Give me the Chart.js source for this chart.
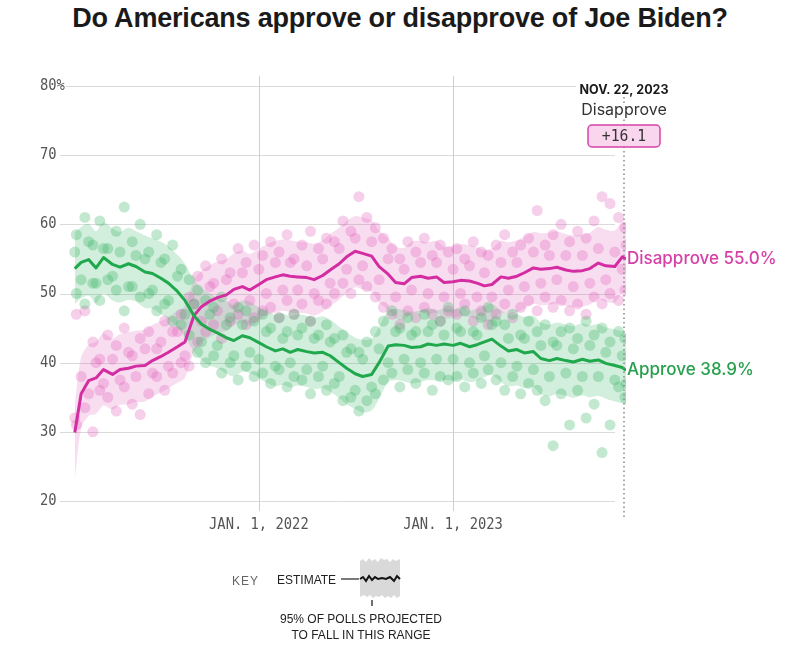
<!DOCTYPE html>
<html lang="en">
<head>
<meta charset="UTF-8">
<title>Do Americans approve or disapprove of Joe Biden?</title>
<script src="https://cdn.jsdelivr.net/npm/chart.js@4.4.0/dist/chart.umd.min.js"></script>
<style>
  body { margin: 0; background: #fff; font-family: "Liberation Sans", Arial, sans-serif; }
  .wrap { position: relative; width: 800px; height: 655px; overflow: hidden; }
  canvas { position: absolute; left: 0; top: 0; }
  h1 {
    position: absolute; left: 0; top: 0; width: 800px; margin: 0;
    text-align: center; font-size: 27px; line-height: 36px; font-weight: bold; color: #1a1a1a;
    letter-spacing: -0.2px;
  }
  .key-label { position: absolute; font-size: 12px; line-height: 14px; }
  .key-note { position: absolute; left: 261px; width: 200px; text-align: center; font-size: 12px; line-height: 16px; color: #222; }
</style>
</head>
<body>
<div class="wrap">
  <h1>Do Americans approve or disapprove of Joe Biden?</h1>
  <canvas id="approvalChart" width="800" height="655"></canvas>

  <div class="key-label" style="left:232px; top:574px; color:#666; letter-spacing:1px;">KEY</div>
  <div class="key-label" style="left:277px; top:573px; color:#222;">ESTIMATE</div>
  <svg width="66" height="52" style="position:absolute; left:338px; top:556px;">
    <line x1="3" y1="23" x2="21" y2="23" stroke="#222" stroke-width="1.2"/>
    <path d="M22,5 L25,3 L28,6 L31,2 L34,5 L37,3 L40,6 L43,2 L46,4 L49,3 L52,6 L55,3 L58,5 L62,3
             L62,40 L59,42 L56,39 L53,42 L50,40 L47,42 L44,39 L41,41 L38,40 L35,42 L32,39 L29,41 L26,39 L22,41 Z"
          fill="#d9d9d9"/>
    <polyline points="22,23 25,21 28,25 31,20 34,24 37,21 40,23 44,22 48,23 52,21 56,25 59,20 62,23"
              fill="none" stroke="#111" stroke-width="2"/>
    <line x1="34" y1="44" x2="34" y2="50" stroke="#222" stroke-width="1.3"/>
  </svg>
  <div class="key-note" style="top:611px;">95% OF POLLS PROJECTED</div>
  <div class="key-note" style="top:627px;">TO FALL IN THIS RANGE</div>
</div>

<script>
  // Axis ticks
  const yTicks = [20, 30, 40, 50, 60, 70, 80];
  const yTickLabels = ['20', '30', '40', '50', '60', '70', '80%'];
  const xTickDates = ['2022-01-01', '2023-01-01'];
  const xTickLabels = ['JAN. 1, 2022', 'JAN. 1, 2023'];
  const lastDateLabel = 'NOV. 22, 2023';

  // Polling average (estimate), twice a month
  const estDates = [
    '2021-01-20','2021-02-01','2021-02-15','2021-03-01','2021-03-15','2021-04-01','2021-04-15','2021-05-01',
    '2021-05-15','2021-06-01','2021-06-15','2021-07-01','2021-07-15','2021-08-01','2021-08-15','2021-09-01',
    '2021-09-15','2021-10-01','2021-10-15','2021-11-01','2021-11-15','2021-12-01','2021-12-15',
    '2022-01-01','2022-01-15','2022-02-01','2022-02-15','2022-03-01','2022-03-15','2022-04-01','2022-04-15',
    '2022-05-01','2022-05-15','2022-06-01','2022-06-15','2022-07-01','2022-07-15','2022-08-01','2022-08-15',
    '2022-09-01','2022-09-15','2022-10-01','2022-10-15','2022-11-01','2022-11-15','2022-12-01','2022-12-15',
    '2023-01-01','2023-01-15','2023-02-01','2023-02-15','2023-03-01','2023-03-15','2023-04-01','2023-04-15',
    '2023-05-01','2023-05-15','2023-06-01','2023-06-15','2023-07-01','2023-07-15','2023-08-01','2023-08-15',
    '2023-09-01','2023-09-15','2023-10-01','2023-10-15','2023-11-01','2023-11-15','2023-11-22'
  ];
  const approveEst = [
    53.6, 54.5, 54.9, 53.7, 55.2, 54.2, 53.8, 54.3, 53.9, 53.1, 52.9, 52.2, 51.5, 50.3, 49.0, 46.8, 45.6, 44.8, 44.3, 43.6, 43.2, 43.9, 43.6,
    42.9, 42.3, 41.7, 42.0, 41.5, 41.9, 41.6, 41.4, 41.5, 41.0, 40.0, 39.2, 38.4, 38.0, 38.3, 40.0, 42.4, 42.6, 42.5, 42.2, 42.3, 42.7, 42.5, 42.7,
    42.5, 42.8, 42.3, 42.6, 43.0, 43.4, 42.4, 41.7, 41.9, 41.4, 41.6, 40.6, 40.3, 40.6, 40.3, 40.1, 40.5, 40.2, 40.4, 39.9, 39.6, 39.3, 38.9
  ];
  const disapproveEst = [
    29.9, 35.5, 37.4, 37.8, 39.0, 38.3, 39.0, 39.2, 39.5, 39.6, 40.3, 40.9, 41.5, 42.3, 43.0, 46.8, 48.1, 48.9, 49.4, 49.8, 50.6, 51.0, 50.5,
    51.3, 52.0, 52.4, 52.7, 52.5, 52.4, 52.3, 52.0, 52.6, 53.4, 54.3, 55.3, 56.1, 55.8, 55.4, 53.9, 52.8, 51.6, 51.4, 52.3, 52.5, 52.2, 52.4, 51.6,
    51.7, 51.9, 51.8, 51.5, 51.1, 51.3, 52.4, 52.2, 52.5, 53.0, 53.7, 53.5, 53.6, 53.8, 53.4, 53.2, 53.3, 53.6, 54.4, 54.0, 53.9, 55.3, 55.0
  ];

  // Range where most polls fall
  const approveHigh = [
    58.8, 59.6, 60.1, 59.0, 60.3, 59.4, 58.9, 59.5, 59.0, 58.4, 58.0, 57.5, 56.8, 55.6, 54.3, 52.0, 50.8, 50.0, 49.4, 48.9, 48.3, 49.0, 48.8,
    48.0, 47.5, 46.9, 47.1, 46.7, 47.0, 46.8, 46.5, 46.7, 46.2, 45.2, 44.4, 43.6, 43.3, 43.5, 45.2, 47.5, 47.8, 47.6, 47.4, 47.5, 47.9, 47.6, 47.8,
    47.7, 48.0, 47.5, 47.8, 48.2, 48.5, 47.6, 46.9, 47.0, 46.6, 46.8, 45.8, 45.5, 45.8, 45.5, 45.3, 45.7, 45.4, 45.6, 45.1, 44.8, 44.5, 44.1
  ];
  const approveLow = [
    48.5, 49.3, 49.7, 48.6, 50.0, 49.0, 48.7, 49.1, 48.8, 47.9, 47.8, 47.0, 46.3, 45.1, 43.8, 41.6, 40.4, 39.6, 39.2, 38.4, 38.0, 38.7, 38.5,
    37.8, 37.1, 36.6, 36.8, 36.4, 36.7, 36.5, 36.2, 36.3, 35.8, 34.9, 34.0, 33.3, 32.8, 33.1, 34.8, 37.2, 37.5, 37.3, 37.0, 37.2, 37.5, 37.4, 37.5,
    37.4, 37.6, 37.2, 37.4, 37.9, 38.2, 37.2, 36.6, 36.7, 36.3, 36.5, 35.4, 35.1, 35.5, 35.2, 34.9, 35.3, 35.0, 35.2, 34.8, 34.4, 34.1, 33.8
  ];
  const disapproveHigh = [
    34.0, 40.8, 42.6, 43.0, 44.2, 43.5, 44.1, 44.4, 44.6, 44.8, 45.5, 46.0, 46.6, 47.5, 48.2, 52.0, 53.3, 54.1, 54.6, 55.0, 55.8, 56.2, 55.7,
    56.5, 57.1, 57.6, 57.8, 57.7, 57.5, 57.4, 57.2, 57.7, 58.6, 59.5, 60.5, 61.2, 61.0, 60.6, 59.1, 58.0, 56.8, 56.6, 57.5, 57.6, 57.4, 57.6, 56.8,
    56.9, 57.1, 57.0, 56.7, 56.3, 56.5, 57.6, 57.4, 57.7, 58.2, 58.9, 58.7, 58.8, 59.0, 58.6, 58.4, 58.5, 58.8, 59.6, 59.2, 59.1, 60.5, 60.2
  ];
  const disapproveLow = [
    23.0, 30.5, 32.3, 32.6, 33.8, 33.2, 33.9, 34.0, 34.3, 34.4, 35.1, 35.7, 36.3, 37.1, 37.8, 41.6, 42.9, 43.7, 44.2, 44.6, 45.4, 45.8, 45.3,
    46.1, 46.8, 47.2, 47.5, 47.3, 47.2, 47.1, 46.8, 47.4, 48.2, 49.1, 50.1, 50.9, 50.6, 50.2, 48.7, 47.6, 46.4, 46.2, 47.1, 47.3, 47.0, 47.2, 46.4,
    46.5, 46.7, 46.6, 46.3, 45.9, 46.1, 47.2, 47.0, 47.3, 47.8, 48.5, 48.3, 48.4, 48.6, 48.2, 48.0, 48.1, 48.4, 49.2, 48.8, 48.7, 50.1, 49.8
  ];

  // Individual polls
  const pollDates = [
    '2021-01-23','2021-02-08','2021-02-23','2021-03-08','2021-03-23','2021-04-08','2021-04-23','2021-05-08',
    '2021-05-23','2021-06-08','2021-06-23','2021-07-08','2021-07-23','2021-08-08','2021-08-23','2021-09-08',
    '2021-09-23','2021-10-08','2021-10-23','2021-11-08','2021-11-23','2021-12-08','2021-12-23',
    '2022-01-08','2022-01-23','2022-02-08','2022-02-23','2022-03-08','2022-03-23','2022-04-08','2022-04-23',
    '2022-05-08','2022-05-23','2022-06-08','2022-06-23','2022-07-08','2022-07-23','2022-08-08','2022-08-23',
    '2022-09-08','2022-09-23','2022-10-08','2022-10-23','2022-11-08','2022-11-23','2022-12-08','2022-12-23',
    '2023-01-08','2023-01-23','2023-02-08','2023-02-23','2023-03-08','2023-03-23','2023-04-08','2023-04-23',
    '2023-05-08','2023-05-23','2023-06-08','2023-06-23','2023-07-08','2023-07-23','2023-08-08','2023-08-23',
    '2023-09-08','2023-09-23','2023-10-08','2023-10-23','2023-11-08','2023-11-20'
  ];
  const approvePollsA = [
    58.5, 61.0, 57.0, 60.5, 56.5, 59.0, 62.5, 57.5, 60.0, 56.0, 58.5, 55.0, 57.0, 53.5, 52.0, 50.5, 49.0, 48.0, 49.5, 46.5, 48.0, 47.5, 46.0,
    47.0, 45.0, 46.5, 44.5, 47.0, 45.0, 46.0, 44.0, 45.5, 43.5, 44.0, 42.0, 41.5, 43.0, 44.5, 46.0, 47.5, 45.0, 46.5, 44.5, 47.0, 45.5, 46.0, 48.0,
    45.0, 47.5, 44.5, 46.5, 48.0, 46.0, 45.5, 47.0, 44.0, 46.0, 44.5, 45.5, 43.0, 44.5, 45.0, 43.5, 46.0, 44.0, 45.0, 43.0, 44.5, 43.5
  ];
  const approvePollsB = [
    50.0, 48.5, 51.5, 49.0, 52.0, 50.5, 47.5, 51.0, 49.5, 50.0, 47.5, 48.5, 46.0, 45.5, 44.0, 41.5, 40.0, 41.0, 38.5, 40.0, 37.5, 39.5, 38.0,
    38.5, 37.0, 39.0, 36.5, 38.0, 37.5, 35.5, 38.0, 36.0, 37.0, 34.5, 35.0, 33.0, 34.5, 35.5, 37.5, 38.5, 36.5, 39.0, 37.0, 38.5, 36.0, 38.0, 37.5,
    38.0, 36.5, 38.5, 37.0, 39.0, 37.5, 36.0, 38.0, 35.5, 37.0, 36.0, 34.5, 28.0, 35.5, 31.0, 36.0, 32.0, 34.0, 27.0, 31.0, 36.5, 35.0
  ];
  const approvePollsC = [
    56.0, 52.0, 57.5, 51.5, 56.5, 52.5, 56.0, 51.0, 55.5, 55.0, 50.5, 54.5, 49.0, 52.5, 47.0, 48.5, 43.0, 47.0, 42.5, 45.5, 41.0, 45.5, 41.5,
    40.5, 44.5, 39.5, 43.5, 40.0, 44.0, 39.0, 43.5, 39.5, 43.0, 38.0, 41.5, 36.0, 40.5, 36.5, 42.0, 40.0, 44.5, 40.5, 44.0, 40.0, 44.5, 40.5, 44.0,
    40.5, 44.5, 40.0, 44.0, 41.0, 45.5, 40.0, 43.5, 39.5, 43.5, 39.0, 42.5, 38.0, 42.5, 38.5, 42.0, 38.0, 42.5, 38.0, 41.5, 37.5, 41.0, 37.0
  ];
  const disapprovePollsA = [
    47.0, 47.5, 43.0, 40.5, 44.0, 42.5, 45.0, 41.0, 43.5, 44.5, 42.0, 46.0, 44.5, 47.0, 49.5, 52.5, 54.0, 51.5, 55.0, 53.0, 56.5, 54.5, 57.0,
    55.5, 57.5, 56.0, 58.5, 55.0, 57.0, 59.0, 56.5, 58.0, 57.5, 60.5, 59.0, 64.0, 61.0, 59.5, 58.0, 56.5, 55.0, 57.5, 56.0, 58.0, 55.5, 57.0, 56.0,
    56.5, 55.0, 57.5, 56.0, 55.5, 57.0, 58.5, 56.0, 57.0, 58.0, 62.0, 57.0, 58.5, 60.0, 57.5, 59.0, 58.0, 60.5, 64.0, 63.0, 61.0, 59.5
  ];
  const disapprovePollsB = [
    31.0, 33.5, 30.0, 36.0, 35.0, 33.0, 36.5, 34.0, 32.5, 35.5, 38.0, 36.0, 38.5, 40.0, 39.5, 43.0, 44.5, 45.5, 43.5, 46.0, 47.0, 45.5, 46.5,
    47.5, 48.0, 46.5, 49.0, 47.0, 48.5, 46.0, 49.0, 48.5, 50.0, 51.5, 50.0, 52.0, 51.0, 49.5, 48.0, 47.0, 45.5, 47.5, 46.5, 48.0, 47.0, 46.0, 47.5,
    47.0, 48.5, 46.0, 47.5, 45.5, 47.0, 48.5, 46.5, 48.0, 49.0, 47.5, 49.5, 48.0, 49.0, 47.5, 48.5, 47.0, 49.5, 48.5, 50.0, 49.0, 50.5
  ];
  const disapprovePollsC = [
    32.0, 38.0, 35.5, 40.0, 37.0, 40.5, 37.5, 41.5, 38.0, 42.0, 38.5, 43.0, 39.5, 44.5, 41.0, 48.5, 46.0, 51.0, 47.5, 52.0, 48.5, 53.0, 49.0,
    53.5, 50.0, 54.5, 50.5, 54.5, 50.5, 54.0, 50.0, 55.0, 51.5, 56.5, 53.5, 58.0, 54.0, 57.5, 52.0, 55.0, 49.5, 53.5, 50.5, 54.5, 50.0, 54.5, 49.5,
    53.5, 50.0, 54.0, 49.5, 53.0, 49.5, 54.5, 50.5, 54.5, 51.0, 56.0, 51.5, 55.5, 52.0, 55.5, 51.0, 55.5, 51.5, 56.5, 52.0, 56.0, 53.5, 57.0
  ];

  const GREEN = '#1fa84c';
  const PINK = '#d42ca1';
  const GREEN_BAND = 'rgba(52, 178, 96, 0.22)';
  const PINK_BAND = 'rgba(222, 84, 180, 0.2)';
  const GREEN_DOT = 'rgba(52, 178, 96, 0.3)';
  const PINK_DOT = 'rgba(222, 84, 180, 0.28)';

  // days from Jan 1, 2022 (linear x scale)
  function dayOf(s) {
    const p = s.split('-').map(Number);
    return (Date.UTC(p[0], p[1] - 1, p[2]) - Date.UTC(2022, 0, 1)) / 86400000;
  }
  function pts(dates, values) {
    return dates.map((d, i) => ({ x: dayOf(d), y: values[i] }));
  }

  const bandStyle = { pointRadius: 0, borderWidth: 0, tension: 0.3, order: 3 };
  const dotStyle = { showLine: false, pointRadius: 5.5, pointBorderWidth: 0, order: 2 };
  const lineStyle = { pointRadius: 0, borderWidth: 3, tension: 0, fill: false, borderJoinStyle: 'round' };

  // condensed monospace label
  function monoText(ctx, text, x, y, align) {
    ctx.save();
    ctx.translate(x, y);
    ctx.scale(0.92, 1);
    ctx.textAlign = align;
    ctx.fillText(text, 0, 0);
    ctx.restore();
  }

  // grid, tick labels and annotations drawn against the chart's scales
  const decorPlugin = {
    id: 'decor',
    beforeDatasetsDraw(chart) {
      const { ctx, chartArea, scales: { x, y } } = chart;
      ctx.save();
      ctx.lineWidth = 1;
      ctx.strokeStyle = '#dadada';
      yTicks.forEach(v => {
        const py = Math.round(y.getPixelForValue(v)) + 0.5;
        ctx.beginPath();
        ctx.moveTo(v === 80 ? 66 : 60, py);
        ctx.lineTo(v === 80 ? chartArea.right - 50 : chartArea.right - 11, py);
        ctx.stroke();
      });
      ctx.strokeStyle = '#cfcfcf';
      xTickDates.forEach(d => {
        const px = Math.round(x.getPixelForValue(dayOf(d))) + 0.5;
        ctx.beginPath();
        ctx.moveTo(px, chartArea.top - 10);
        ctx.lineTo(px, chartArea.bottom + 10);
        ctx.stroke();
      });
      ctx.fillStyle = '#555';
      ctx.font = '15px "DejaVu Sans Mono", monospace';
      ctx.textBaseline = 'middle';
      yTicks.forEach((v, i) => monoText(ctx, yTickLabels[i], 40, y.getPixelForValue(v), 'left'));
      xTickDates.forEach((d, i) => monoText(ctx, xTickLabels[i], x.getPixelForValue(dayOf(d)), chartArea.bottom + 24, 'center'));
      ctx.restore();
    },
    afterDatasetsDraw(chart) {
      const { ctx, chartArea, scales: { x, y } } = chart;
      const lastX = x.getPixelForValue(dayOf(estDates[estDates.length - 1])) - 2;
      const lastA = approveEst[approveEst.length - 1];
      const lastD = disapproveEst[disapproveEst.length - 1];
      ctx.save();
      // dotted "today" line
      ctx.strokeStyle = '#8a8a8a';
      ctx.lineWidth = 1.5;
      ctx.setLineDash([1.5, 3]);
      ctx.beginPath();
      ctx.moveTo(lastX, 97);
      ctx.lineTo(lastX, chartArea.bottom + 19);
      ctx.stroke();
      ctx.setLineDash([]);
      // header
      ctx.textAlign = 'center';
      ctx.textBaseline = 'middle';
      ctx.fillStyle = '#fff';
      ctx.fillRect(lastX - 38, 103, 76, 14);
      ctx.fillStyle = '#1a1a1a';
      ctx.font = 'bold 12.5px Inter, "Open Sans", sans-serif';
      ctx.fillText(lastDateLabel, lastX, 90);
      ctx.fillStyle = '#333';
      ctx.font = '16px Inter, "Open Sans", sans-serif';
      ctx.fillText('Disapprove', lastX, 110);
      // margin box
      const bx = lastX - 36, by = 125, bw = 72, bh = 22;
      ctx.beginPath();
      ctx.roundRect(bx, by, bw, bh, 4);
      ctx.fillStyle = '#f9d6ee';
      ctx.fill();
      ctx.strokeStyle = '#d843a6';
      ctx.lineWidth = 1.5;
      ctx.stroke();
      ctx.fillStyle = '#333';
      ctx.font = '16px "DejaVu Sans Mono", monospace';
      monoText(ctx, '+' + (lastD - lastA).toFixed(1), lastX, by + bh / 2 + 1, 'center');
      // end labels
      ctx.textAlign = 'left';
      ctx.font = '500 17px Inter, "Open Sans", sans-serif';
      ctx.fillStyle = '#d640a8';
      ctx.fillText('Disapprove ' + lastD.toFixed(1) + '%', chartArea.right + 1, y.getPixelForValue(lastD));
      ctx.fillStyle = '#27a04d';
      ctx.fillText('Approve ' + lastA.toFixed(1) + '%', chartArea.right + 1, y.getPixelForValue(lastA));
      ctx.restore();
    }
  };

  function createChart() {
    const ctx = document.getElementById('approvalChart').getContext('2d');
    new Chart(ctx, {
      type: 'line',
      data: {
        datasets: [
          { label: 'approve low', data: pts(estDates, approveLow), fill: false, ...bandStyle },
          { label: 'approve high', data: pts(estDates, approveHigh), fill: 0, backgroundColor: GREEN_BAND, ...bandStyle },
          { label: 'disapprove low', data: pts(estDates, disapproveLow), fill: false, ...bandStyle },
          { label: 'disapprove high', data: pts(estDates, disapproveHigh), fill: 2, backgroundColor: PINK_BAND, ...bandStyle },
          { label: 'approve polls A', data: pts(pollDates, approvePollsA), pointBackgroundColor: GREEN_DOT, ...dotStyle },
          { label: 'approve polls B', data: pts(pollDates, approvePollsB), pointBackgroundColor: GREEN_DOT, ...dotStyle },
          { label: 'approve polls C', data: pts(estDates, approvePollsC), pointBackgroundColor: GREEN_DOT, ...dotStyle },
          { label: 'disapprove polls A', data: pts(pollDates, disapprovePollsA), pointBackgroundColor: PINK_DOT, ...dotStyle },
          { label: 'disapprove polls B', data: pts(pollDates, disapprovePollsB), pointBackgroundColor: PINK_DOT, ...dotStyle },
          { label: 'disapprove polls C', data: pts(estDates, disapprovePollsC), pointBackgroundColor: PINK_DOT, ...dotStyle },
          { label: 'Disapprove', data: pts(estDates, disapproveEst), borderColor: PINK, order: 1, ...lineStyle },
          { label: 'Approve', data: pts(estDates, approveEst), borderColor: GREEN, order: 0, ...lineStyle }
        ]
      },
      options: {
        responsive: false,
        animation: false,
        events: [],
        layout: { padding: { left: 62, right: 174, top: 86, bottom: 154 } },
        plugins: { legend: { display: false }, tooltip: { enabled: false } },
        scales: {
          x: { type: 'linear', display: false, min: -370, max: 690 },
          y: { display: false, min: 20, max: 80 }
        }
      },
      plugins: [decorPlugin]
    });
  }

  window.onload = createChart;
</script>
</body>
</html>
